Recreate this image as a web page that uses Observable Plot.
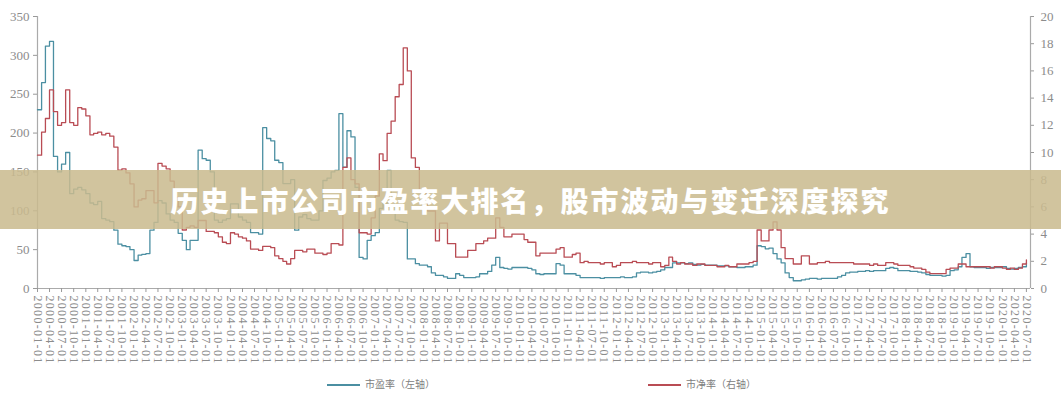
<!DOCTYPE html>
<html>
<head>
<meta charset="utf-8">
<script src="https://cdn.jsdelivr.net/npm/d3@7"></script>
<script src="https://cdn.jsdelivr.net/npm/@observablehq/plot@0.6"></script>
<style>
  body { margin: 0; background: #fff; }
  #wrap { position: relative; width: 1061px; height: 400px; overflow: hidden; background: #fff; }
  #chart { position: absolute; left: 0; top: 0; }
  #banner { position: absolute; left: 0; top: 170px; width: 1061px; height: 59px;
    background: rgba(202,186,142,0.86); display: flex; align-items: center; justify-content: center;
    color: #fff; font: 900 28px "Noto Sans CJK SC", sans-serif; letter-spacing: 2px; white-space: nowrap; }
  .leg { position: absolute; top: 376px; font: 10px "Noto Sans CJK SC", sans-serif; color: #808080; white-space: nowrap; }
  .leg i { display: inline-block; width: 33px; height: 0; border-top: 2px solid; vertical-align: middle; margin-right: 5px; }
  g[aria-label="x-axis tick label"] { letter-spacing: 1.3px; }
</style>
</head>
<body>
<div id="wrap">
  <div id="chart"></div>
  <div id="banner"></div>
  <div class="leg" id="leg1" style="left:327px"></div>
  <div class="leg" id="leg2" style="left:648px"></div>
</div>
<script>
// ---- data (monthly, 2000-01 .. 2020-07) ----
const title = "历史上市公司市盈率大排名，股市波动与变迁深度探究";
const seriesNames = ["市盈率（左轴）", "市净率（右轴）"];
const seriesColors = ["#4b8fa2", "#b94c54"];
const startMonth = "2000-01-01";
const endMonth = "2020-08-01";

// 市盈率 (left axis)
const pe = [
  230,265,312,318,170,150,160,175,122,128,130,127,
  122,110,108,112,90,88,86,75,57,55,54,50,
  36,43,44,45,75,85,113,110,96,88,85,71,
  62,50,62,62,178,167,165,150,88,85,88,90,
  109,109,92,88,85,72,72,70,207,193,190,165,
  162,135,135,140,75,92,95,90,88,88,100,139,
  142,150,152,225,156,203,195,130,40,38,62,68,
  72,103,110,152,120,88,86,85,38,38,32,30,
  30,28,20,17,17,15,13,13,19,17,14,14,
  14,15,19,19,22,30,40,27,26,25,27,27,
  27,27,26,24,19,18,19,19,19,32,30,19,
  19,19,17,14,14,14,14,14,13,14,14,14,
  14,15,14,14,15,20,21,21,20,21,22,24,
  27,27,33,33,33,32,33,31,30,31,30,30,
  30,29,29,29,28,28,27,27,28,28,30,55,
  54,51,52,45,38,33,20,14,10,10,11,12,
  13,13,12,13,13,13,13,15,17,20,21,21,
  22,22,23,22,23,23,23,26,27,26,23,23,
  23,22,22,21,20,18,17,17,17,16,17,23,
  24,28,40,45,28,27,27,27,26,27,27,27,
  28,26,25,26,27,28,33
];

// 市净率 (right axis)
const pb = [
  9.8,11.5,12.5,14.6,13.0,12.0,12.2,14.6,12.2,12.0,13.3,13.2,
  12.7,11.3,11.4,11.5,11.3,11.4,11.2,10.4,8.7,8.8,8.5,7.7,
  6.0,6.5,6.6,7.2,7.2,6.3,9.2,9.0,8.8,7.9,6.7,6.0,
  4.3,4.5,4.6,4.5,5.0,5.0,4.2,4.2,4.1,3.8,3.4,3.3,
  4.1,4.0,3.8,3.7,3.5,2.9,2.9,2.8,3.1,3.1,3.0,2.4,
  2.2,2.0,1.8,2.2,2.8,2.8,2.7,2.9,2.9,2.6,2.6,2.5,
  2.6,3.3,3.3,3.2,8.9,9.6,8.0,7.7,4.1,4.1,4.0,5.2,
  6.8,9.9,9.4,11.4,12.3,14.1,15.0,17.7,16.0,9.6,8.9,7.2,
  7.0,5.7,5.7,3.5,4.8,4.8,3.3,3.3,2.3,2.3,2.3,2.8,
  2.8,3.3,3.3,3.5,3.7,3.7,5.2,4.5,3.8,3.8,4.0,4.0,
  4.0,3.6,3.4,3.4,2.4,2.6,2.6,2.6,2.6,2.9,3.0,2.3,
  2.3,2.5,2.6,1.9,2.0,1.9,1.9,1.9,1.8,1.9,1.9,1.6,
  1.7,1.9,1.9,1.9,2.0,1.9,1.9,1.9,1.8,1.9,1.9,1.6,
  1.7,2.3,2.0,1.8,1.9,1.8,1.8,1.7,1.8,1.8,1.7,1.7,
  1.7,1.6,1.6,1.7,1.6,1.6,1.8,1.8,1.8,1.9,2.0,4.3,
  3.5,3.5,4.3,4.9,4.3,3.0,2.2,2.2,1.8,1.8,2.4,2.4,
  1.8,1.8,1.9,1.9,2.0,1.9,1.9,1.9,1.9,1.9,1.9,1.8,
  1.8,1.8,1.8,1.7,1.8,1.7,1.7,1.9,1.9,1.8,1.7,1.7,
  1.7,1.6,1.5,1.5,1.4,1.2,1.1,1.1,1.1,1.1,1.4,1.5,
  1.5,1.8,1.8,1.6,1.6,1.6,1.6,1.6,1.6,1.5,1.6,1.6,
  1.5,1.4,1.5,1.4,1.5,1.8,2.1
];

const leftTicks = [0, 50, 100, 150, 200, 250, 300, 350];
const rightTicks = [0, 2, 4, 6, 8, 10, 12, 14, 16, 18, 20];

// ---- build ----
const d0 = new Date(startMonth + "T00:00:00Z");
const d1 = new Date(endMonth + "T00:00:00Z");
const months = d3.utcMonth.range(d0, d1);
const k = 350 / 20; // right-axis units onto left scale
const peRows = months.map((d, i) => ({date: d, v: pe[i]}));
const pbRows = months.map((d, i) => ({date: d, v: pb[i] * k}));
const quarterTicks = d3.utcMonth.every(3).range(d0, d1);

const chart = Plot.plot({
  width: 1061, height: 372,
  marginTop: 16, marginBottom: 84, marginLeft: 37, marginRight: 31,
  x: {type: "utc", domain: [d0, d1]},
  y: {domain: [0, 350]},
  style: {fontFamily: "'Liberation Serif', serif", color: "#8c8c8c", background: "transparent", overflow: "visible"},
  marks: [
    Plot.ruleY([0], {stroke: "#aaaaaa", strokeWidth: 1.2}),
    Plot.ruleX([d0], {y1: 0, y2: 350, stroke: "#aaaaaa", strokeWidth: 1.2}),
    Plot.ruleX([d1], {y1: 0, y2: 350, stroke: "#aaaaaa", strokeWidth: 1.2}),
    Plot.axisX(quarterTicks, {anchor: "bottom", tickFormat: d3.utcFormat("%Y-%m-%d"), tickRotate: 90,
      tickSize: 4, tickPadding: 3, fontSize: 12, label: null, stroke: "#999"}),
    Plot.axisY(leftTicks, {anchor: "left", tickSize: 4, tickPadding: 4, fontSize: 13, label: null, stroke: "#999"}),
    Plot.axisY(rightTicks.map(v => v * k), {anchor: "right", tickFormat: v => String(Math.round(v / k)),
      tickSize: 3, tickPadding: 7, fontSize: 13, label: null, stroke: "#999"}),
    Plot.lineY(peRows, {x: "date", y: "v", stroke: seriesColors[0], strokeWidth: 1.3, curve: "step-after"}),
    Plot.lineY(pbRows, {x: "date", y: "v", stroke: seriesColors[1], strokeWidth: 1.3, curve: "step-after"})
  ]
});
document.getElementById("chart").appendChild(chart);
document.getElementById("banner").textContent = title;
const l1 = document.getElementById("leg1");
l1.innerHTML = `<i style="border-color:${seriesColors[0]}"></i>${seriesNames[0]}`;
const l2 = document.getElementById("leg2");
l2.innerHTML = `<i style="border-color:${seriesColors[1]}"></i>${seriesNames[1]}`;
</script>
</body>
</html>
